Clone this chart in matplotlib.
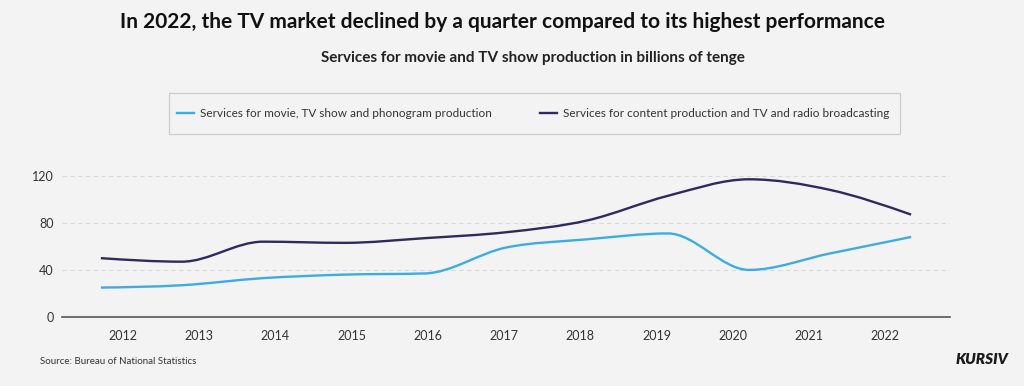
import numpy as np
import matplotlib
matplotlib.use("Agg")
import matplotlib.pyplot as plt
from matplotlib.path import Path
from matplotlib.patches import PathPatch, Rectangle
from matplotlib.lines import Line2D

# data (billions of tenge)
years = [2012, 2013, 2014, 2015, 2016, 2017, 2018, 2019, 2020, 2021, 2022]
movie_tv_phonogram = [25, 27, 33, 36, 37, 59, 66, 71, 40, 54, 68]
content_broadcasting = [50, 47, 64, 63, 67, 72, 82, 103, 117, 108, 87]
y_ticks = [0, 40, 80, 120]

bg = '#f3f3f3'
light_blue = '#3badE4'
navy = '#2e2a5e'
plt.rcParams['font.family'] = ['Lato', 'DejaVu Sans']


def smooth_path(xs, ys):
    # monotone cubic (like d3 curveMonotoneX) as bezier segments
    xs = np.asarray(xs, float)
    ys = np.asarray(ys, float)
    n = len(xs)
    h = np.diff(xs)
    s = np.diff(ys) / h
    t = np.zeros(n)
    for i in range(1, n - 1):
        p = (s[i - 1] * h[i] + s[i] * h[i - 1]) / (h[i - 1] + h[i])
        t[i] = (np.sign(s[i - 1]) + np.sign(s[i])) * min(abs(s[i - 1]), abs(s[i]), 0.5 * abs(p))
    t[0] = (3 * s[0] - t[1]) / 2
    t[-1] = (3 * s[-1] - t[-2]) / 2
    verts = [(xs[0], ys[0])]
    codes = [Path.MOVETO]
    for i in range(n - 1):
        d = h[i] / 3
        verts += [(xs[i] + d, ys[i] + d * t[i]),
                  (xs[i + 1] - d, ys[i + 1] - d * t[i + 1]),
                  (xs[i + 1], ys[i + 1])]
        codes += [Path.CURVE4] * 3
    return Path(verts, codes)


fig = plt.figure(figsize=(10.24, 3.86), dpi=100, facecolor=bg)
ax = fig.add_axes([62 / 1024, 1 - 317 / 386, 888 / 1024, 153 / 386])
ax.set_facecolor(bg)

x = np.arange(len(years))
for vals, col in [(movie_tv_phonogram, light_blue), (content_broadcasting, navy)]:
    ax.add_patch(PathPatch(smooth_path(x, vals), facecolor='none', edgecolor=col,
                           lw=1.7, capstyle='butt', zorder=3))

ax.set_xlim(-0.48, 10.48)
ax.set_ylim(0, 130)

# year labels sit a bit off the points, as in the original
ax.set_xticks(0.272 + 0.941 * x)
ax.set_xticklabels([str(yr) for yr in years])
ax.set_yticks(y_ticks)
ax.tick_params(length=0, labelsize=9, colors='#333333')
ax.tick_params(axis='x', pad=9)
ax.tick_params(axis='y', pad=6)

for v in y_ticks[1:]:
    ax.axhline(v, color='#d9d9d9', lw=0.8, ls=(0, (4, 3)), zorder=1)

for side in ['top', 'right', 'left']:
    ax.spines[side].set_visible(False)
ax.spines['bottom'].set_color('#555555')
ax.spines['bottom'].set_linewidth(1.2)

# titles
fig.text(503 / 1024, 1 - 22 / 386, 'In 2022, the TV market declined by a quarter compared to its highest performance',
         ha='center', va='center', fontsize=15, fontweight='bold', color='#111111')
fig.text(533 / 1024, 1 - 58 / 386, 'Services for movie and TV show production in billions of tenge',
         ha='center', va='center', fontsize=11, fontweight='bold', color='#222222')

# legend box + entries
fig.patches.append(Rectangle((169 / 1024, 1 - 134 / 386), 731 / 1024, 41 / 386,
                             transform=fig.transFigure, facecolor=bg,
                             edgecolor='#cccccc', lw=0.9, zorder=0))
handles = [Line2D([], [], color=light_blue, lw=1.7),
           Line2D([], [], color=navy, lw=1.7)]
labels = ['Services for movie, TV show and phonogram production',
          'Services for content production and TV and radio broadcasting']
leg = fig.legend(handles, labels, loc='center left', ncol=2,
                 bbox_to_anchor=(177 / 1024, 1 - 113.5 / 386),
                 frameon=False, fontsize=8.5, handlelength=1.45,
                 handletextpad=0.5, columnspacing=4.1, borderpad=0, borderaxespad=0)
for txt in leg.get_texts():
    txt.set_color('#333333')

# footer
fig.text(40 / 1024, 1 - 362 / 386, 'Source: Bureau of National Statistics',
         ha='left', va='center', fontsize=7, color='#333333')
fig.text(1008 / 1024, 1 - 360 / 386, 'KURSIV', ha='right', va='center',
         fontsize=11, fontweight='heavy', fontstyle='italic', color='#1a1a1a')

plt.savefig('out.png', dpi=100, facecolor=bg)
